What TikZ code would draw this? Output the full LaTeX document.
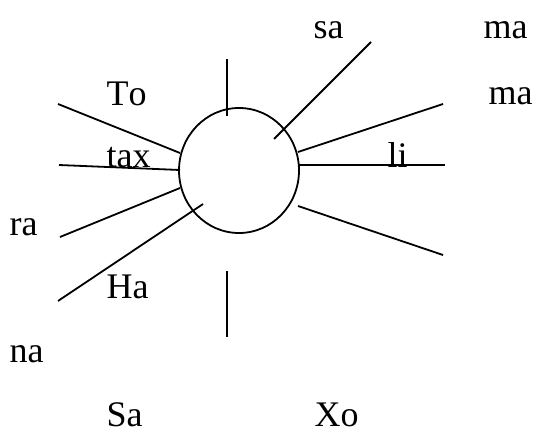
\documentclass[tikz,border=0pt]{standalone}
\usepackage{fontspec}
\setmainfont[Kerning=Off]{Liberation Serif}
\usetikzlibrary{shapes.geometric}
\begin{document}
\begin{tikzpicture}[x=1pt,y=-1pt,
  lbl/.style={anchor=base west,inner sep=0pt,font=\fontsize{36}{40}\selectfont},
  ray/.style={line width=1.8pt,line cap=butt}]
\useasboundingbox (0,0) rectangle (537,430);
\node[draw,ellipse,line width=1.8pt,minimum width=120pt,minimum height=125pt,inner sep=0pt] (c) at (239,170.5) {};
% labels
\node[lbl] (sa) at (313.5,39) {sa};
\node[lbl] (ma1) at (483.5,39) {ma};
\node[lbl] (ma2) at (488.5,105) {ma};
\node[lbl] (to) at (106.5,106) {To};
\node[lbl] (tax) at (106.5,168) {tax};
\node[lbl] (li) at (387.5,168) {li};
\node[lbl] (ra) at (9.5,235) {ra};
\node[lbl] (ha) at (106.5,298) {Ha};
\node[lbl] (na) at (9.5,362) {na};
\node[lbl] (sa2) at (106.5,426.5) {Sa};
\node[lbl] (xo) at (314.5,426.5) {Xo};
% ray end points
\coordinate (t1) at (227,59);   \coordinate (t2) at (227,116);
\coordinate (b1) at (227,271);  \coordinate (b2) at (227,337);
\coordinate (l1a) at (58,104);  \coordinate (l1b) at (180,153);
\coordinate (l2a) at (59,165);  \coordinate (l2b) at (180,170);
\coordinate (l3a) at (60,237);  \coordinate (l3b) at (180,188);
\coordinate (l4a) at (58,301);  \coordinate (l4b) at (203,204);
\coordinate (r1a) at (371,42);  \coordinate (r1b) at (274,139);
\coordinate (r2a) at (443,104); \coordinate (r2b) at (298,152);
\coordinate (r3a) at (445,165); \coordinate (r3b) at (299,165);
\coordinate (r4a) at (443,255); \coordinate (r4b) at (298,206);
\draw[ray] (t1) -- (t2);
\draw[ray] (b1) -- (b2);
\draw[ray] (l1a) -- (l1b);
\draw[ray] (l2a) -- (l2b);
\draw[ray] (l3a) -- (l3b);
\draw[ray] (l4a) -- (l4b);
\draw[ray] (r1a) -- (r1b);
\draw[ray] (r2a) -- (r2b);
\draw[ray] (r3a) -- (r3b);
\draw[ray] (r4a) -- (r4b);
\end{tikzpicture}
\end{document}
